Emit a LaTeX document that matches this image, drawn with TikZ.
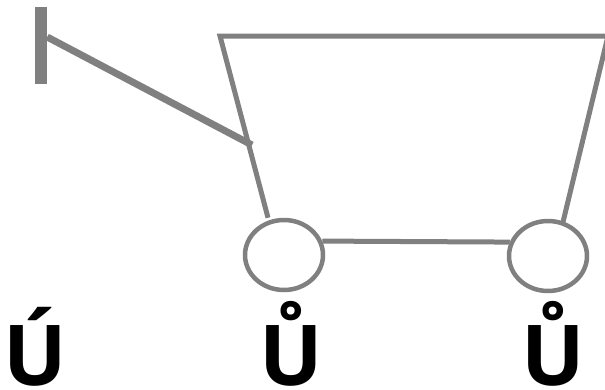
\documentclass[tikz,border=0pt]{standalone}
\usepackage{fontspec}
\setmainfont{Open Sans}
\usetikzlibrary{shapes.geometric}
\definecolor{cartgray}{HTML}{808080}
\begin{document}
\begin{tikzpicture}[x=1pt,y=-1pt,
	cartline/.style={draw=cartgray,line width=5pt},
	wheel/.style={ellipse,draw=cartgray,line width=4.5pt,minimum width=78pt,minimum height=70pt,inner sep=0pt},
	letter/.style={font=\fontsize{84}{84}\selectfont\bfseries,inner sep=0pt,anchor=base}]
	\useasboundingbox (0,0) rectangle (605,389);
	% handle
	\node [fill=cartgray,minimum width=12pt,minimum height=77pt,inner sep=0pt] (bar) at (41,45.5) {};
	\coordinate (grip) at (252,145);
	\draw [cartgray,line width=7pt] (bar.east |- 0,37) -- (grip);
	% wheels
	\node [wheel] (lwheel) at (284,255) {};
	\node [wheel] (rwheel) at (548,256) {};
	\draw [cartline] (lwheel.20) -- (rwheel.160);
	% basket
	\coordinate (tl) at (220,36);
	\coordinate (tr) at (608,36);
	\draw [cartline] (lwheel.north) ++(-16,0) coordinate (lw) -- (tl) -- (tr) -- (563,222) coordinate (rw);
	% letters
	\node [letter] (u1) at (35,385) {Ú};
	\node [letter] (u2) at (291,385) {Ů};
	\node [letter] (u3) at (553,385) {Ů};
\end{tikzpicture}
\end{document}
